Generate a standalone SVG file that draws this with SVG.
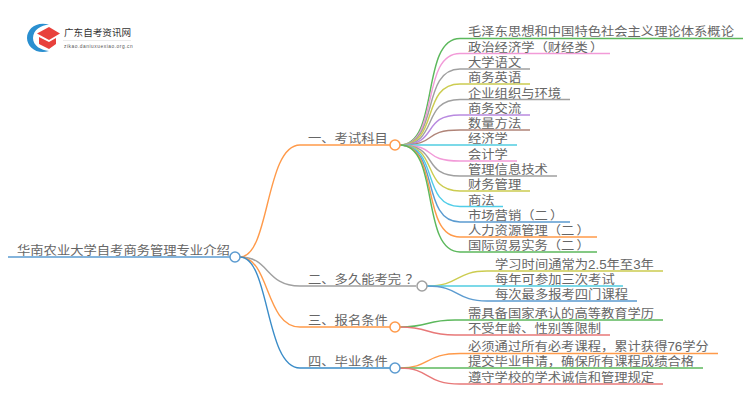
<svg xmlns="http://www.w3.org/2000/svg" width="750" height="410" viewBox="0 0 750 410">
<style>
text{font-family:"Liberation Sans","Noto Sans CJK SC",sans-serif;font-size:12px;fill:#666;text-spacing-trim:space-all}
.c path{fill:none;stroke-width:1.4}
circle{fill:#fff;stroke-width:1.5}
</style>
<rect width="750" height="410" fill="#fff"/>
<g id="logo">
<path d="M49 24.500C36 21 27 29 27 38C27 47 37 55 49 51C41 50 33 46 33 38C33 30 41 25 49 24.500Z" fill="#2a8fd0"/>
<path d="M37 33.500L49 27L60 33.500L49 40Z" fill="#e8413c"/>
<path d="M39 37L49 42L56 38V44L49 49L39 44Z" fill="#e8413c"/>
<text transform="translate(64,36) scale(1.02,1)" style="font-size:9.400px;fill:#333">广东自考资讯网</text>
<path d="M63 40.500H131" stroke="#ddd" stroke-width=".6"/>
<text x="64" y="48" style="font-size:4.800px;letter-spacing:.55px;fill:#555">zikao.daniuxuexiao.org.cn</text>
</g>
<g class="c" id="connectors">
<path d="M8 257H230" stroke="#5b9bd0"/>
<path d="M240 257C270 257 265 145 300 145H390" stroke="#ff9a4a"/>
<path d="M240 257C270 257 265 286 300 286H416" stroke="#a0a0a0"/>
<path d="M240 257C270 257 265 327 300 327H390" stroke="#ff9a4a"/>
<path d="M240 257C270 257 265 368 300 368H390" stroke="#3a8cc8"/>
<path d="M400 145C440 145 420 38.500 460 38.500H743" stroke="#5cb85c"/>
<path d="M400 145C440 145 420 53.500 460 53.500H610" stroke="#f29ad8"/>
<path d="M400 145C440 145 420 69 460 69H530" stroke="#a0a0a0"/>
<path d="M400 145C440 145 420 84 460 84H530" stroke="#cccc50"/>
<path d="M400 145C440 145 420 99.500 460 99.500H570" stroke="#a0a0a0"/>
<path d="M400 145C440 145 420 115 460 115H530" stroke="#b98ae0"/>
<path d="M400 145C440 145 420 130 460 130H530" stroke="#b08478"/>
<path d="M400 145H517" stroke="#50cde0"/>
<path d="M400 145C440 145 420 161 460 161H517" stroke="#f29ad8"/>
<path d="M400 145C440 145 420 176 460 176H557" stroke="#a0a0a0"/>
<path d="M400 145C440 145 420 191 460 191H530" stroke="#cccc50"/>
<path d="M400 145C440 145 420 206.500 460 206.500H503" stroke="#50cde8"/>
<path d="M400 145C440 145 420 222 460 222H570" stroke="#5b9bd0"/>
<path d="M400 145C440 145 420 237 460 237H597" stroke="#ff9a4a"/>
<path d="M400 145C440 145 420 252 460 252H597" stroke="#5cb85c"/>
<path d="M427 286C460 286 455 271 487 271H663" stroke="#cccc50"/>
<path d="M427 286H623" stroke="#50cde0"/>
<path d="M427 286C460 286 455 301 487 301H637" stroke="#5b9bd0"/>
<path d="M400 327C430 327 425 320 455 320H663" stroke="#5cb85c"/>
<path d="M400 327C430 327 425 335 455 335H610" stroke="#e87878"/>
<path d="M400 368C430 368 425 353.500 460 353.500H718" stroke="#ff9a4a"/>
<path d="M400 368H703" stroke="#5cb85c"/>
<path d="M400 368C430 368 425 384 460 384H663" stroke="#e87878"/>
</g>
<g id="root"><circle cx="235" cy="257" r="5" stroke="#5b9bd0"/><text transform="translate(17,255) scale(1.11,1)">华南农业大学自考商务管理专业介绍</text></g>
<g id="b1"><circle cx="395" cy="145" r="5" stroke="#ff9a4a"/><text transform="translate(308,143) scale(1.11,1)">一、考试科目</text></g>
<g id="b2"><circle cx="422" cy="286" r="5" stroke="#a0a0a0"/><text transform="translate(308,284) scale(1.11,1)">二、多久能考完<tspan dx="4">？</tspan></text></g>
<g id="b3"><circle cx="395" cy="327" r="5" stroke="#ff9a4a"/><text transform="translate(308,325) scale(1.11,1)">三、报名条件</text></g>
<g id="b4"><circle cx="395" cy="368" r="5" stroke="#5b9bd0"/><text transform="translate(308,366) scale(1.11,1)">四、毕业条件</text></g>
<g id="leaves">
<text transform="translate(468,36) scale(1.11,1)">毛泽东思想和中国特色社会主义理论体系概论</text>
<text transform="translate(468,51.500) scale(1.11,1)">政治经济学（财经类<tspan dx="2">）</tspan></text>
<text transform="translate(468,67) scale(1.11,1)">大学语文</text>
<text transform="translate(468,82) scale(1.11,1)">商务英语</text>
<text transform="translate(468,97.500) scale(1.11,1)">企业组织与环境</text>
<text transform="translate(468,113) scale(1.11,1)">商务交流</text>
<text transform="translate(468,128) scale(1.11,1)">数量方法</text>
<text transform="translate(468,143) scale(1.11,1)">经济学</text>
<text transform="translate(468,159) scale(1.11,1)">会计学</text>
<text transform="translate(468,174) scale(1.11,1)">管理信息技术</text>
<text transform="translate(468,189) scale(1.11,1)">财务管理</text>
<text transform="translate(468,205) scale(1.11,1)">商法</text>
<text transform="translate(468,220) scale(1.11,1)">市场营销（二<tspan dx="2">）</tspan></text>
<text transform="translate(468,235) scale(1.11,1)">人力资源管理（二<tspan dx="2">）</tspan></text>
<text transform="translate(468,250) scale(1.11,1)">国际贸易实务（二<tspan dx="2">）</tspan></text>
<text transform="translate(495,269) scale(1.11,1)">学习时间通常为2.5年至3年</text>
<text transform="translate(495,284) scale(1.11,1)">每年可参加三次考试</text>
<text transform="translate(495,299) scale(1.11,1)">每次最多报考四门课程</text>
<text transform="translate(468,318) scale(1.11,1)">需具备国家承认的高等教育学历</text>
<text transform="translate(468,333) scale(1.11,1)">不受年龄、性别等限制</text>
<text transform="translate(468,351) scale(1.11,1)">必须通过所有必考课程，累计获得76学分</text>
<text transform="translate(468,366) scale(1.11,1)">提交毕业申请，确保所有课程成绩合格</text>
<text transform="translate(468,382) scale(1.11,1)">遵守学校的学术诚信和管理规定</text>
</g>
</svg>
